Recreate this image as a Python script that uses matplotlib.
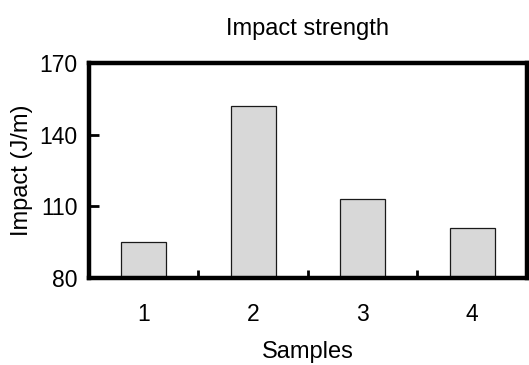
import matplotlib
matplotlib.use('Agg')
import matplotlib.pyplot as plt
import numpy as np

samples = ['1', '2', '3', '4']
impact = [95, 152, 113, 101]
y_ticks = [80, 110, 140, 170]

plt.rcParams['font.family'] = ['Liberation Sans', 'DejaVu Sans']

fig = plt.figure(figsize=(5.29, 3.65), dpi=100)
ax = fig.add_axes([0.168, 0.238, 0.828, 0.589])

x = np.arange(len(samples))
ax.bar(x, impact, width=0.41, bottom=0, color='#d8d8d8', edgecolor='#1a1a1a', linewidth=0.9)

ax.set_xlim(-0.5, len(samples) - 0.5)
ax.set_ylim(80, 170)
ax.set_yticks(y_ticks)
ax.set_xticks(x)
ax.set_xticklabels(samples)
ax.set_xticks(x[:-1] + 0.5, minor=True)

for s in ax.spines.values():
    s.set_linewidth(3.2)

ax.tick_params(axis='x', which='major', length=0, pad=18, labelsize=16.5)
ax.tick_params(axis='x', which='minor', direction='in', length=6, width=2)
ax.tick_params(axis='y', direction='in', length=7, width=2, pad=8, labelsize=16.5)

ax.set_title('Impact strength', fontsize=17, pad=20)
ax.set_xlabel('Samples', fontsize=17, labelpad=11)
ax.set_ylabel('Impact (J/m)', fontsize=17, labelpad=5)

fig.savefig('out.png', dpi=100)
